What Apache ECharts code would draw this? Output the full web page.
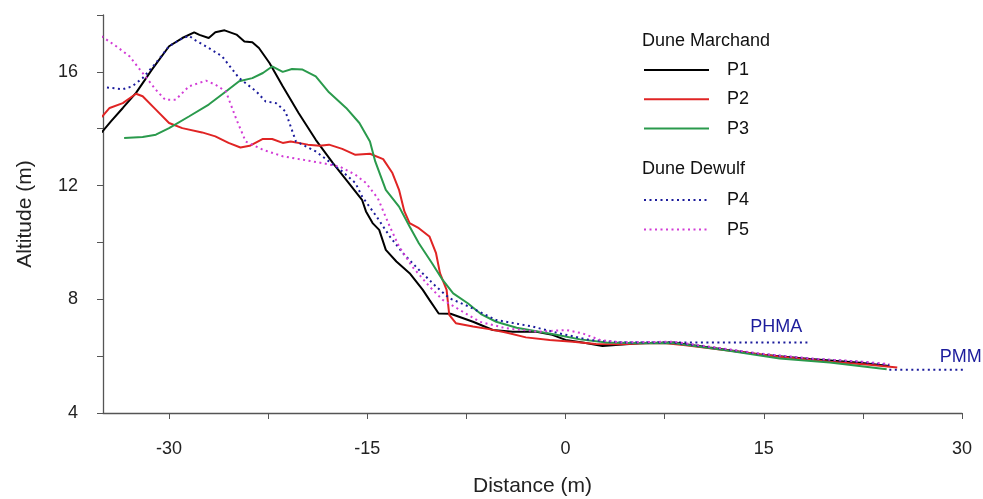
<!DOCTYPE html>
<html>
<head>
<meta charset="utf-8">
<script src="https://cdn.jsdelivr.net/npm/echarts@6/dist/echarts.min.js"></script>
<style>html,body{margin:0;padding:0;background:#fff}#c{width:983px;height:499px}</style>
</head>
<body>
<div id="c"></div>
<script>
// Distance (m), Altitude (m)
var p1 = [[-35.1,13.87],[-34.4,14.26],[-33.5,14.73],[-32.5,15.26],[-31.3,16.08],[-30.0,16.9],[-29.0,17.19],[-28.1,17.39],[-27.7,17.3],[-27.0,17.19],[-26.5,17.39],[-25.8,17.46],[-24.9,17.31],[-24.3,17.07],[-23.7,17.04],[-23.2,16.84],[-22.4,16.31],[-21.4,15.49],[-20.2,14.55],[-18.9,13.61],[-17.6,12.79],[-16.4,12.09],[-15.4,11.5],[-15.1,11.09],[-14.6,10.68],[-14.1,10.44],[-13.6,9.74],[-12.8,9.33],[-11.8,8.92],[-10.8,8.33],[-10.3,7.98],[-9.6,7.5],[-8.7,7.49],[-7.0,7.21],[-5.5,6.92],[-4.0,6.86],[-2.2,6.86],[-1.0,6.75],[0,6.57],[1.3,6.48],[2.8,6.36],[3.8,6.39],[5.6,6.45],[8.1,6.48],[10.9,6.3],[14.7,6.06],[18.5,5.9],[22.3,5.77],[24.5,5.65]];
var p2 = [[-35.1,14.41],[-34.5,14.73],[-33.5,14.9],[-32.5,15.23],[-32.0,15.14],[-31.0,14.67],[-30.0,14.2],[-29.0,14.02],[-27.5,13.87],[-26.5,13.73],[-25.5,13.5],[-24.6,13.34],[-23.9,13.4],[-22.9,13.64],[-22.2,13.64],[-21.4,13.5],[-20.8,13.55],[-19.5,13.44],[-18.6,13.4],[-17.9,13.44],[-16.9,13.29],[-15.9,13.08],[-14.8,13.12],[-13.8,12.93],[-13.1,12.44],[-12.6,11.85],[-12.2,11.1],[-11.8,10.68],[-11.1,10.5],[-10.3,10.21],[-9.8,9.62],[-9.5,8.92],[-9.0,8.33],[-8.8,7.45],[-8.3,7.16],[-7.0,7.04],[-5.8,6.95],[-4.5,6.83],[-3.0,6.66],[-1.2,6.57],[0.55,6.51],[2.3,6.43],[4.1,6.42],[6.1,6.45],[7.6,6.45],[9.1,6.38],[12,6.22],[16.2,5.98],[20,5.8],[23,5.7],[25.1,5.6]];
var p3 = [[-33.4,13.67],[-32.0,13.71],[-31.0,13.79],[-30.0,14.02],[-28.5,14.43],[-27.0,14.85],[-25.7,15.31],[-24.7,15.67],[-23.7,15.78],[-22.9,15.96],[-22.2,16.19],[-21.4,16.0],[-20.7,16.1],[-19.9,16.08],[-18.9,15.84],[-17.9,15.28],[-16.6,14.73],[-15.6,14.2],[-14.8,13.55],[-14.4,12.85],[-13.6,11.85],[-12.6,11.26],[-11.8,10.56],[-11.1,9.97],[-10.1,9.27],[-9.3,8.68],[-8.5,8.21],[-7.4,7.86],[-6.4,7.48],[-5.25,7.21],[-3.7,7.0],[-2.0,6.86],[-0.7,6.75],[1.1,6.59],[3.1,6.48],[5.6,6.45],[8.1,6.46],[12,6.22],[16.2,5.92],[20,5.78],[24.3,5.54]];
var p4 = [[-34.7,15.45],[-33.5,15.39],[-32.8,15.49],[-32.0,15.78],[-31.0,16.31],[-30.0,16.9],[-29.2,17.13],[-28.5,17.27],[-28.0,17.11],[-27.0,16.84],[-26.0,16.55],[-24.7,15.78],[-23.4,15.31],[-22.7,14.96],[-21.9,14.9],[-21.2,14.61],[-20.8,14.08],[-20.4,13.55],[-19.9,13.44],[-18.9,13.2],[-17.9,12.85],[-16.9,12.5],[-15.9,12.09],[-15.4,11.62],[-14.3,10.91],[-13.3,10.21],[-12.3,9.62],[-11.1,9.04],[-9.8,8.45],[-8.8,8.04],[-7.3,7.74],[-5.25,7.27],[-4.5,7.21],[-2.5,7.04],[-0.45,6.8],[1.8,6.57],[4.3,6.48],[8.1,6.48],[10.9,6.32],[14.7,6.08],[18.5,5.91],[22.3,5.8],[24.5,5.69]];
var p5 = [[-35.1,17.25],[-34.0,16.9],[-33.0,16.55],[-32.0,15.96],[-31.0,15.37],[-30.3,15.02],[-29.5,15.02],[-28.5,15.49],[-27.2,15.69],[-26.5,15.55],[-25.7,15.31],[-24.9,14.32],[-24.2,13.55],[-22.9,13.26],[-21.4,13.03],[-19.9,12.91],[-18.4,12.79],[-17.1,12.67],[-15.9,12.38],[-15.1,12.09],[-14.2,11.55],[-13.3,10.56],[-12.6,9.86],[-11.6,9.15],[-10.3,8.45],[-9.3,7.98],[-7.8,7.57],[-6.5,7.21],[-4.5,6.98],[-2.0,6.86],[0.05,6.92],[1.3,6.8],[2.6,6.57],[4.3,6.48],[8.1,6.51],[10.9,6.33],[14.7,6.09],[18.5,5.92],[22.3,5.81],[24.5,5.72]];
var phma = [[4,6.48],[18.4,6.48]];
var pmm = [[24.5,5.52],[31.5,5.52]];
var phmaLabelAt = [15.95, 6.48];
var pmmLabelAt = [29.9, 5.52];

var xTicks = [-30,-22.5,-15,-7.5,0,7.5,15,22.5,30];
var xLabels = [-30,-15,0,15,30];
var yTicks = [4,6,8,10,12,14,16,18];
var yLabels = [4,8,12,16];

var FONT = 'Liberation Sans, Arial, sans-serif';
var chart = echarts.init(document.getElementById('c'), null, {renderer:'canvas'});

function line(name, data, color, dotted){
  return {
    name: name, type: 'line', data: data, symbol: 'none', smooth: false,
    lineStyle: {color: color, width: 2, type: dotted ? [2,3.5] : 'solid'},
    itemStyle: {color: color},
    z: dotted ? 3 : 2
  };
}
var blue = '#1c1c9c';
var legendText = {fontFamily: FONT, fontSize: 18, color: '#111', padding: [0,0,0,13]};

chart.setOption({
  animation: false,
  grid: {left: 103, right: 21, top: 15, bottom: 86, outerBoundsMode: 'none', containLabel: false},
  xAxis: {
    type: 'value', min: -35, max: 30,
    name: 'Distance (m)', nameLocation: 'middle', nameGap: 63,
    nameTextStyle: {fontFamily: FONT, fontSize: 21, color: '#222'},
    axisLine: {onZero: false, lineStyle: {color: '#555', width: 1.3}},
    axisTick: {show: true, length: 6, customValues: xTicks, lineStyle: {color: '#555'}},
    axisLabel: {customValues: xLabels, margin: 27, fontFamily: FONT, fontSize: 18, color: '#222'},
    splitLine: {show: false}
  },
  yAxis: {
    type: 'value', min: 4, max: 18,
    name: 'Altitude (m)', nameLocation: 'middle', nameGap: 67, nameRotate: 90,
    nameTextStyle: {fontFamily: FONT, fontSize: 21, color: '#222'},
    axisLine: {show: true, onZero: false, lineStyle: {color: '#555', width: 1.3}},
    axisTick: {show: true, length: 6, customValues: yTicks, lineStyle: {color: '#555'}},
    axisLabel: {customValues: yLabels, margin: 25, fontFamily: FONT, fontSize: 18, color: '#222'},
    splitLine: {show: false}
  },
  legend: [
    {data: ['P1','P2','P3'], orient: 'vertical', left: 638, top: 56, itemWidth: 65, itemHeight: 14, itemGap: 11.3, textStyle: legendText, selectedMode: false, itemStyle: {opacity: 0}},
    {data: ['P4','P5'], orient: 'vertical', left: 638, top: 186, itemWidth: 65, itemHeight: 14, itemGap: 11.6, textStyle: legendText, selectedMode: false, itemStyle: {opacity: 0}}
  ],
  graphic: [
    {type: 'text', left: 642, top: 32, style: {text: 'Dune Marchand', fontFamily: FONT, fontSize: 18, fill: '#111'}},
    {type: 'text', left: 642, top: 160, style: {text: 'Dune Dewulf', fontFamily: FONT, fontSize: 18, fill: '#111'}}
  ],
  series: [
    line('P1', p1, '#000000', false),
    line('P2', p2, '#e02424', false),
    line('P3', p3, '#2a9a4c', false),
    line('P4', p4, blue, true),
    line('P5', p5, '#d23cd6', true),
    {
      name: 'PHMA', type: 'line', data: phma, symbol: 'none', z: 1,
      lineStyle: {color: blue, width: 2, type: [2,3.5]},
      markPoint: {symbol: 'circle', symbolSize: 0, data: [{coord: phmaLabelAt}],
        label: {show: true, position: 'top', distance: 6, formatter: 'PHMA', fontFamily: FONT, fontSize: 18, color: blue}}
    },
    {
      name: 'PMM', type: 'line', data: pmm, symbol: 'none', clip: false, z: 1,
      lineStyle: {color: blue, width: 2, type: [2,3.5]},
      markPoint: {symbol: 'circle', symbolSize: 0, data: [{coord: pmmLabelAt}],
        label: {show: true, position: 'top', distance: 4, formatter: 'PMM', fontFamily: FONT, fontSize: 18, color: blue}}
    }
  ]
});
</script>
</body>
</html>
